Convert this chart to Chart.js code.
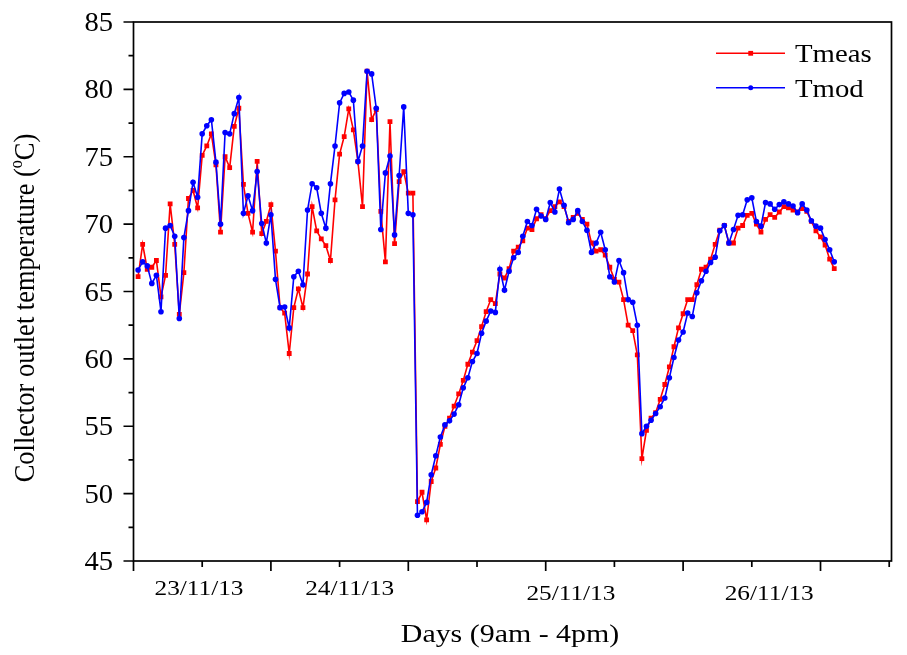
<!DOCTYPE html>
<html><head><meta charset="utf-8">
<script src="https://cdn.jsdelivr.net/npm/chart.js@4.4.1/dist/chart.umd.min.js"></script>
<style>html,body{margin:0;padding:0;background:#fff;}canvas{display:block;}</style>
</head><body>
<canvas id="c" width="907" height="655"></canvas>
<script>
// Sample number (one reading per step, 9am - 4pm each day)
const sampleNo = [];
for (let i = 1; i <= 153; i++) sampleNo.push(i);

const tmeas = [
 66.1,68.5,66.65,66.8,67.3,64.6,66.2,71.5,68.5,63.3,
 66.4,71.9,72.5,71.2,75.1,75.8,76.7,74.4,69.4,75.0,
 74.2,77.25,78.6,72.95,70.8,69.4,74.65,69.3,70.2,71.45,
 68.0,63.8,63.4,60.4,63.8,65.2,63.8,66.3,71.3,69.5,
 68.9,68.4,67.3,71.8,75.2,76.5,78.55,77.0,74.65,71.3,
 81.35,77.75,78.5,70.95,67.2,77.6,68.55,73.15,73.9,72.3,
 72.3,49.4,50.1,48.05,50.9,51.9,53.65,55.0,55.6,56.5,
 57.4,58.4,59.6,60.5,61.35,62.4,63.5,64.4,64.1,66.3,
 66.0,66.7,68.0,68.3,68.75,69.7,69.6,70.4,70.7,70.4,
 71.0,71.3,71.65,71.3,70.2,70.5,70.8,70.35,70.0,68.6,
 68.0,68.1,67.7,66.8,65.9,65.7,64.4,62.5,62.1,60.3,
 52.6,54.7,55.6,56.0,57.0,58.1,59.4,60.9,62.3,63.35,
 64.4,64.4,65.5,66.65,66.8,67.4,68.5,69.55,69.9,68.6,
 68.6,69.7,69.9,70.65,70.8,70.0,69.4,70.35,70.7,70.5,
 70.9,71.3,71.2,71.05,70.9,71.15,70.95,70.2,69.5,69.05,
 68.45,67.4,66.7
];
const tmod = [
 66.6,67.2,66.9,65.6,66.2,63.5,69.7,69.9,69.1,63.0,
 69.0,71.0,73.1,72.0,76.7,77.3,77.75,74.6,70.0,76.8,
 76.7,78.2,79.4,70.8,72.1,71.0,73.9,70.05,68.6,70.7,
 65.9,63.8,63.85,62.3,66.1,66.5,65.5,71.05,73.0,72.7,
 70.8,69.7,73.0,75.8,79.0,79.7,79.8,79.2,74.65,75.8,
 81.35,81.15,78.6,69.6,73.8,75.05,69.2,73.6,78.7,70.8,
 70.7,48.4,48.65,49.35,51.4,52.8,54.2,55.1,55.4,55.9,
 56.6,57.85,58.6,59.8,60.4,61.9,62.8,63.55,63.45,66.65,
 65.1,66.5,67.5,67.9,69.1,70.2,69.9,71.1,70.6,70.35,
 71.6,70.9,72.6,71.4,70.1,70.35,71.0,70.2,69.55,67.9,
 68.6,69.4,68.1,66.1,65.7,67.3,66.4,64.4,64.2,62.5,
 54.45,55.0,55.45,55.95,56.45,57.1,58.6,60.1,61.4,62.0,
 63.4,63.15,64.9,65.8,66.5,67.15,67.55,69.5,69.9,68.6,
 69.6,70.65,70.7,71.8,71.95,70.2,69.85,71.6,71.5,71.1,
 71.45,71.65,71.5,71.35,70.85,71.5,71.05,70.25,69.85,69.7,
 68.85,68.1,67.2
];

const yTicks = [45,50,55,60,65,70,75,80,85];
const xMajorTicks = [0,30,60,90,120,150];
const xMinorTicks = [15,45,75,105,135,165];
const dayLabels = ['23/11/13','24/11/13','25/11/13','26/11/13'];
const dayLabelAt = [14.3,47.2,95.5,138.8];
const seriesNames = ['Tmeas','Tmod'];

const FONT = '"Liberation Serif", "Times New Roman", Times, serif';

function stext(ctx, s, x, y, size, align, sx) {
  ctx.save();
  ctx.font = size + 'px ' + FONT;
  ctx.translate(x, y);
  ctx.scale(sx, 1);
  ctx.textAlign = align;
  ctx.textBaseline = 'alphabetic';
  ctx.fillText(s, 0, 0);
  ctx.restore();
}

const framePlugin = {
  id: 'frame',
  afterDraw(chart) {
    const {ctx, chartArea: a, scales: {x, y}} = chart;
    ctx.save();
    ctx.strokeStyle = '#000';
    ctx.fillStyle = '#000';
    ctx.lineWidth = 1.7;
    ctx.strokeRect(a.left, a.top, a.right - a.left, a.bottom - a.top);
    ctx.beginPath();
    yTicks.forEach(v => { const p = y.getPixelForValue(v); ctx.moveTo(a.left - 10, p); ctx.lineTo(a.left, p); });
    yTicks.slice(0, -1).forEach(v => { const p = y.getPixelForValue(v + 2.5); ctx.moveTo(a.left - 5, p); ctx.lineTo(a.left, p); });
    xMajorTicks.forEach(v => { const p = x.getPixelForValue(v); ctx.moveTo(p, a.bottom); ctx.lineTo(p, a.bottom + 10); });
    xMinorTicks.forEach(v => { const p = x.getPixelForValue(v); ctx.moveTo(p, a.bottom); ctx.lineTo(p, a.bottom + 6); });
    ctx.stroke();

    yTicks.forEach(v => { stext(ctx, String(v), 113, y.getPixelForValue(v) + 9, 27, 'right', 1.06); });
    dayLabels.forEach((s, i) => {
      const base = i < 2 ? 595 : 600;
      stext(ctx, s, x.getPixelForValue(dayLabelAt[i]), base, 22, 'center', 1.15);
    });
    stext(ctx, 'Days (9am - 4pm)', 510, 642, 26, 'center', 1.15);

    // rotated y title with superscript o
    ctx.save();
    ctx.translate(33.5, 308);
    ctx.rotate(-Math.PI / 2);
    ctx.scale(1, 1.12);
    const f1 = '26.5px ' + FONT, f2 = '16px ' + FONT;
    ctx.font = f1;
    const p1 = 'Collector outlet temperature (', p3 = 'C)';
    const w1 = ctx.measureText(p1).width, w3 = ctx.measureText(p3).width;
    ctx.font = f2; const w2 = ctx.measureText('o').width;
    const sx0 = -(w1 + w2 + w3) / 2;
    ctx.textAlign = 'left'; ctx.textBaseline = 'alphabetic';
    ctx.font = f1; ctx.fillText(p1, sx0, 0);
    ctx.font = f2; ctx.fillText('o', sx0 + w1, -10.5);
    ctx.font = f1; ctx.fillText(p3, sx0 + w1 + w2, 0);
    ctx.restore();

    const ds = chart.data.datasets;
    const rows = [53.3, 87.7];
    ds.forEach((d, i) => {
      const yy = rows[i];
      ctx.strokeStyle = d.borderColor; ctx.lineWidth = 1.5;
      ctx.beginPath(); ctx.moveTo(716, yy); ctx.lineTo(785, yy); ctx.stroke();
      ctx.fillStyle = d.borderColor;
      if (d.pointStyle === 'rect') ctx.fillRect(750.7 - 2.4, yy - 2.4, 4.8, 4.8);
      else { ctx.beginPath(); ctx.arc(750.7, yy, 2.5, 0, Math.PI * 2); ctx.fill(); }
      ctx.fillStyle = '#000';
      stext(ctx, d.label, 795, yy + 9, 25, 'left', 1.15);
    });
    ctx.restore();
  }
};

function build() {
  new Chart(document.getElementById('c'), {
    type: 'line',
    data: {
      datasets: [
        { label: seriesNames[0], data: tmeas.map((v, i) => ({x: sampleNo[i], y: v})),
          borderColor: '#ff0000', backgroundColor: '#ff0000', borderWidth: 1.6,
          pointStyle: 'rect', pointRadius: 3.4, pointBorderWidth: 0, pointHoverRadius: 3.4, tension: 0, order: 2 },
        { label: seriesNames[1], data: tmod.map((v, i) => ({x: sampleNo[i], y: v})),
          borderColor: '#0000ff', backgroundColor: '#0000ff', borderWidth: 1.6,
          pointStyle: 'circle', pointRadius: 2.8, pointBorderWidth: 0, pointHoverRadius: 2.8, tension: 0, order: 1 }
      ]
    },
    options: {
      responsive: false, animation: false, devicePixelRatio: 1,
      layout: { padding: { left: 133.5, top: 22, right: 15.5, bottom: 94 } },
      scales: {
        x: { type: 'linear', min: 0, max: 165.5, display: false },
        y: { type: 'linear', min: 45, max: 85, display: false }
      },
      plugins: { legend: { display: false }, tooltip: { enabled: false } }
    },
    plugins: [framePlugin]
  });
}
Promise.all([
  document.fonts.load('25px "Liberation Serif"'),
  document.fonts.load('16px "Liberation Serif"')
]).then(build, build);
</script>
</body></html>
